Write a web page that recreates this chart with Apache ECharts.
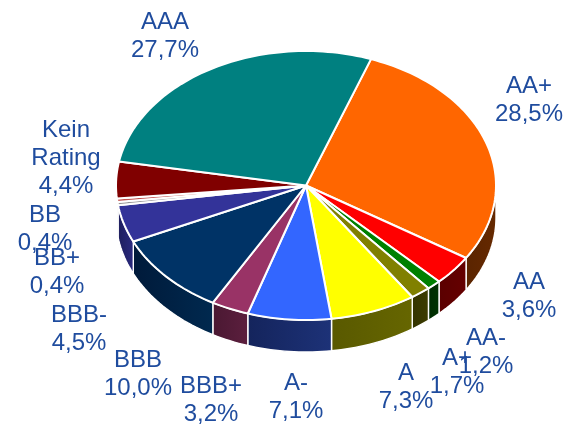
<!DOCTYPE html>
<html>
<head>
<meta charset="utf-8">
<style>html,body{margin:0;padding:0;background:#fff}#main{width:567px;height:424px}</style>
<script src="https://cdn.jsdelivr.net/npm/echarts@6/dist/echarts.min.js"></script>
</head>
<body>
<div id="main"></div>
<script>
// clockwise from the AAA / AA+ boundary
const categories = ['AA+', 'AA', 'AA-', 'A+', 'A', 'A-', 'BBB+', 'BBB', 'BBB-', 'BB+', 'BB', 'Kein\nRating', 'AAA'];
const shares = [28.5, 3.6, 1.2, 1.7, 7.3, 7.1, 3.2, 10.0, 4.5, 0.4, 0.4, 4.4, 27.7];
const topColors = ['#ff6600', '#ff0000', '#008000', '#808000', '#ffff00', '#3366ff', '#993366', '#003366', '#333399', '#969696', '#c0504d', '#800000', '#008080'];
const sideColors = [
  ['#662900', '#5a2400'], ['#660000', '#5a0000'], ['#003300', '#002a00'], ['#3d3d00', '#333300'],
  ['#666600', '#595900'], ['#1d3278', '#14245c'], ['#5c1f3e', '#4a1832'], ['#00294f', '#001a3a'],
  ['#2a2a80', '#1e1e5c'], ['#666666', '#666666'], ['#662020', '#662020'], ['#4d0000', '#4d0000'], ['#004d4d', '#004d4d']
];

// layout of the drawn pie
const cx = 306, cy = 185.5, rx = 190, ry = 134.5, depth = 32, startAngle = 20;
// centre of each label block, same order as categories
const labelCentres = [[529, 100], [529, 296], [486, 352], [457, 372], [406, 387], [296, 397], [211, 400], [138, 374], [79, 329], [57, 272], [45, 229], [66, 158], [165, 36]];

const total = shares.reduce((a, b) => a + b, 0);
const fromAngles = [];
let run = startAngle;
shares.forEach(v => { fromAngles.push(run); run += v / total * 360; });

function pt(t, dy) {
  const r = t * Math.PI / 180;
  return [cx + rx * Math.sin(r), cy - ry * Math.cos(r) + (dy || 0)];
}
function arc(a, b, dy) {
  const out = [];
  const n = Math.max(2, Math.ceil(Math.abs(b - a) / 1.5));
  for (let i = 0; i <= n; i++) out.push(pt(a + (b - a) * i / n, dy));
  return out;
}

function renderTop(params, api) {
  const i = params.dataIndex;
  const a = fromAngles[i];
  const b = a + api.value(0) / total * 360;
  return {
    type: 'polygon',
    shape: { points: [[cx, cy]].concat(arc(a, b)) },
    style: { fill: topColors[i], stroke: '#fff', lineWidth: 2, lineJoin: 'round' }
  };
}

function renderSide(params, api) {
  const i = params.dataIndex;
  const a = Math.max(fromAngles[i], 90);
  const b = Math.min(fromAngles[i] + api.value(0) / total * 360, 262);
  if (b <= a) return null;
  return {
    type: 'polygon',
    shape: { points: arc(a, b).concat(arc(b, a, depth)) },
    style: {
      fill: new echarts.graphic.LinearGradient(0, 0, 1, 0, [
        { offset: 0, color: sideColors[i][1] },
        { offset: 1, color: sideColors[i][0] }
      ]),
      stroke: '#fff', lineWidth: 1.4
    }
  };
}

const labels = categories.map((c, i) => ({
  type: 'text',
  x: labelCentres[i][0],
  y: labelCentres[i][1],
  style: {
    text: c + '\n' + shares[i].toFixed(1).replace('.', ',') + '%',
    font: '24px "Liberation Sans", Arial, sans-serif',
    fill: '#1f4c9e',
    align: 'center',
    verticalAlign: 'middle',
    lineHeight: 28
  }
}));

const chart = echarts.init(document.getElementById('main'), null, { renderer: 'canvas' });
chart.setOption({
  animation: false,
  backgroundColor: '#fff',
  graphic: { elements: labels },
  series: [
    { type: 'custom', coordinateSystem: 'none', renderItem: renderSide, data: shares.map(v => [v]), silent: true, z: 1 },
    { type: 'custom', coordinateSystem: 'none', renderItem: renderTop, data: shares.map(v => [v]), silent: true, z: 2 }
  ]
});
</script>
</body>
</html>
